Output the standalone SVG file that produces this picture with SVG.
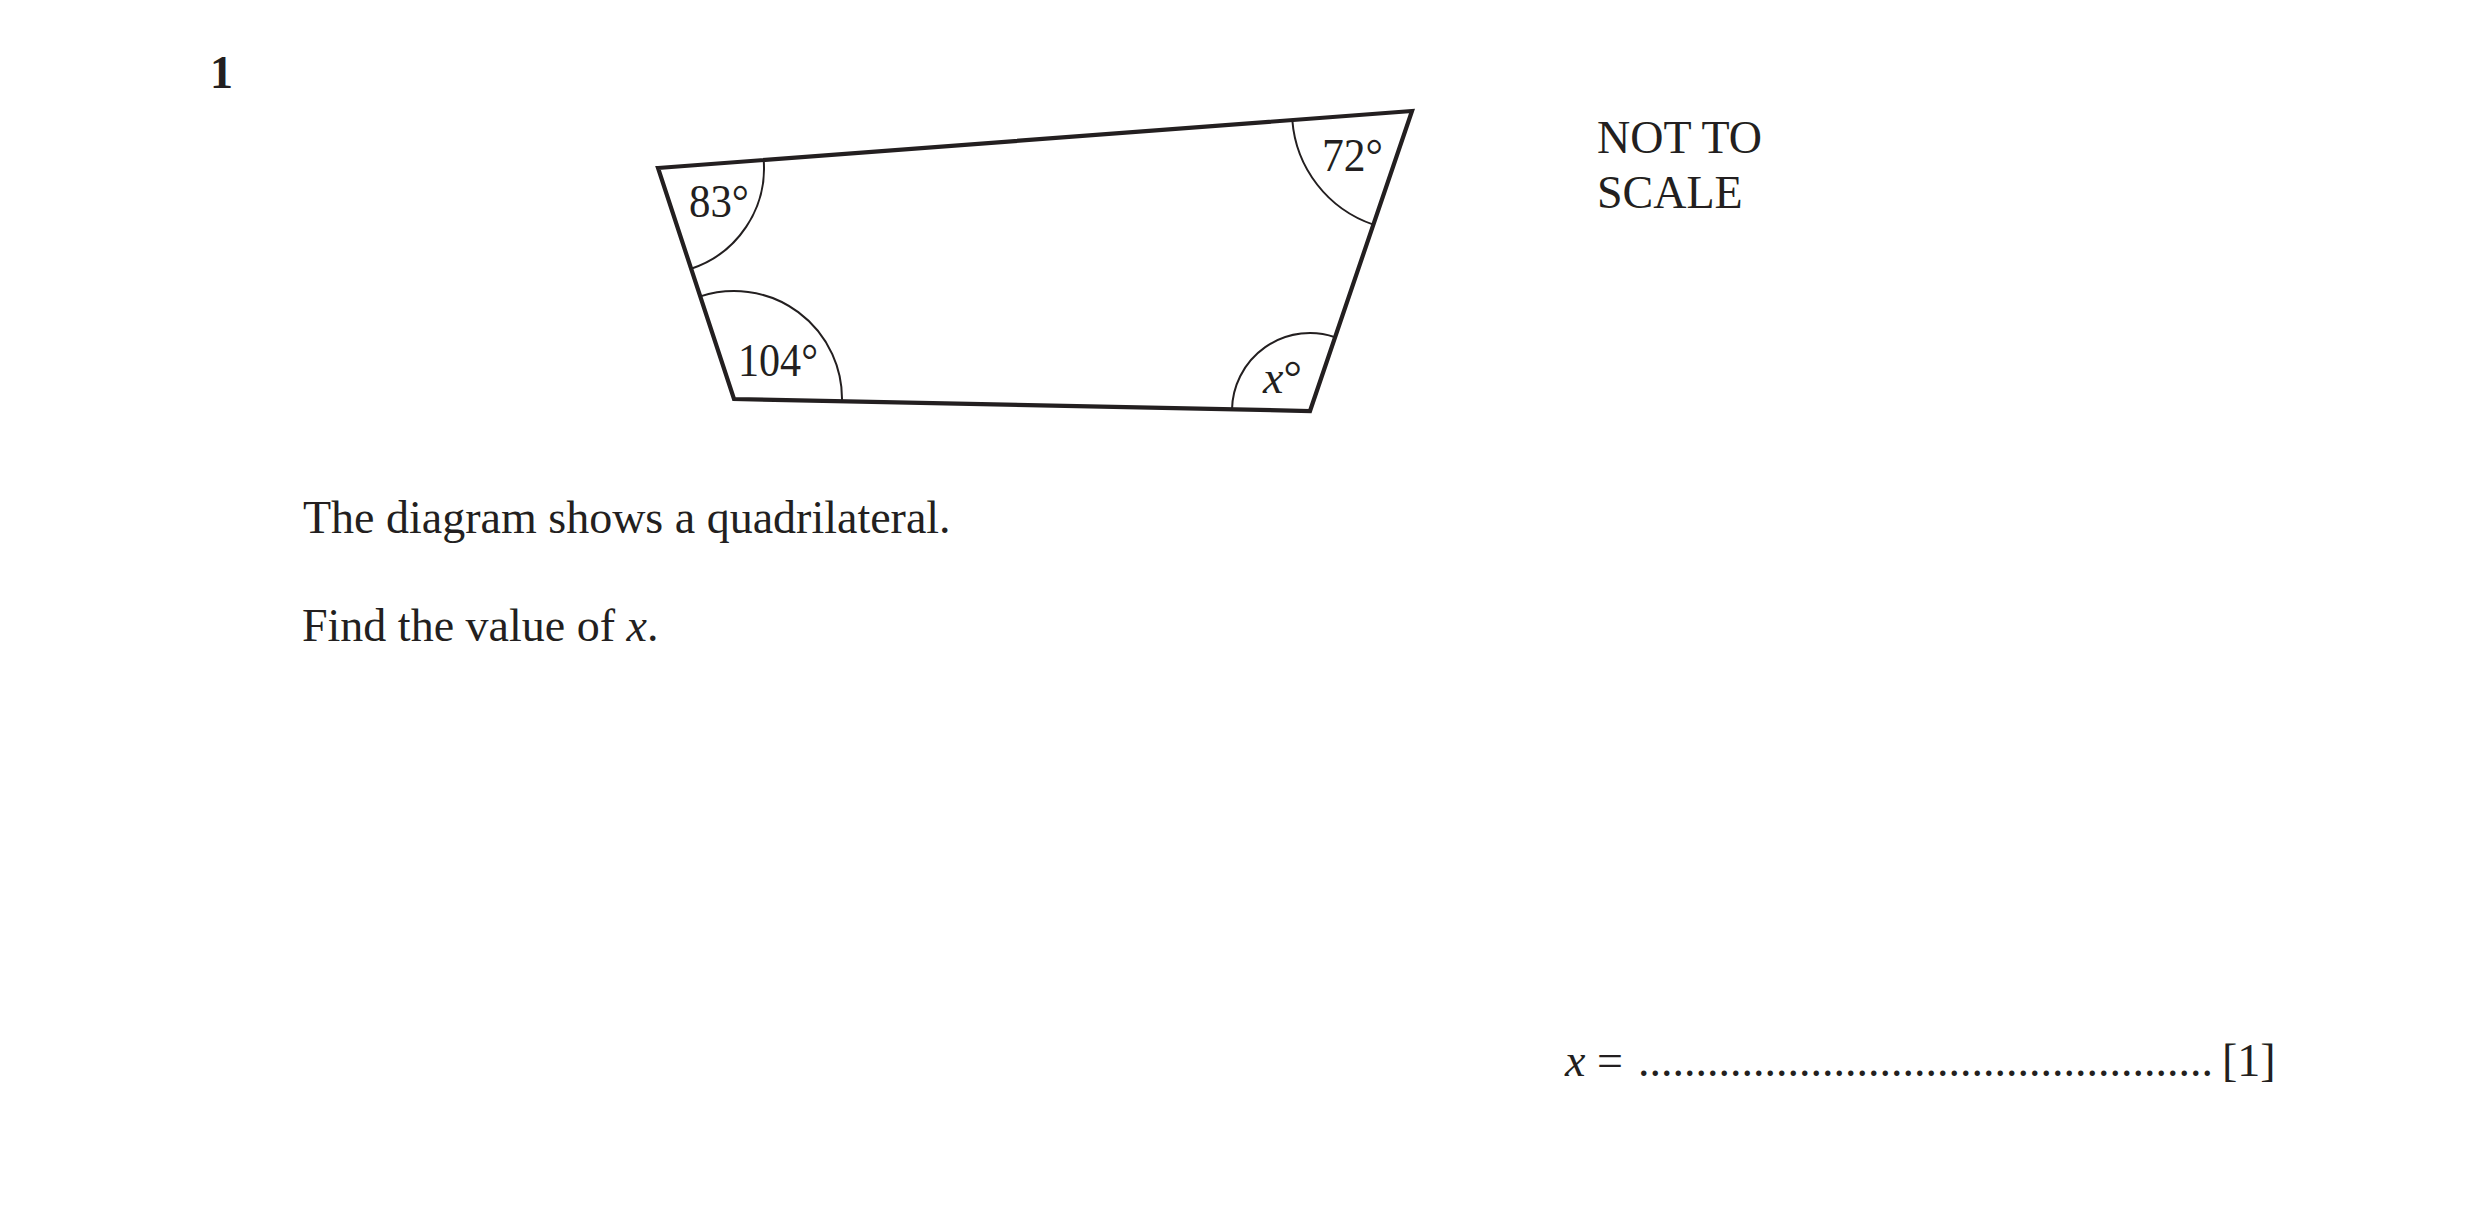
<svg xmlns="http://www.w3.org/2000/svg" width="2481" height="1232" viewBox="0 0 2481 1232">
<style>
text{font-family:"Liberation Serif","Times New Roman",serif;font-size:46px;fill:#231f20}
.b{font-weight:bold}
.i{font-style:italic}
.edge{fill:none;stroke:#231f20;stroke-width:4.2;stroke-linejoin:miter}
.arc{fill:none;stroke:#231f20;stroke-width:2}
</style>
<rect width="2481" height="1232" fill="#ffffff"/>
<g id="question-number"><text class="b" x="210" y="88">1</text></g>
<g id="quadrilateral">
<polygon class="edge" points="658,168 1412,111 1310,411 734,399"/>
</g>
<g id="angle-marks">
<g id="angle-83"><path class="arc" d="M763.7,160 A106,106 0 0 1 691.1,268.7"/><text x="689" y="217" textLength="60" lengthAdjust="spacingAndGlyphs">83°</text></g>
<g id="angle-72"><path class="arc" d="M1292.3,120 A120,120 0 0 0 1373.4,224.6"/><text x="1322" y="171" textLength="61" lengthAdjust="spacingAndGlyphs">72°</text></g>
<g id="angle-104"><path class="arc" d="M700.3,296.4 A108,108 0 0 1 842,401.2"/><text x="738" y="376" textLength="80" lengthAdjust="spacingAndGlyphs">104°</text></g>
<g id="angle-x"><path class="arc" d="M1232,409.4 A78,78 0 0 1 1335.1,337.2"/><text x="1263" y="393"><tspan class="i">x</tspan>°</text></g>
</g>
<g id="note"><text x="1597" y="153">NOT TO</text><text x="1597" y="208">SCALE</text></g>
<g id="question-text">
<text x="303" y="533">The diagram shows a quadrilateral.</text>
<text x="302" y="641">Find the value of <tspan class="i">x</tspan>.</text>
</g>
<g id="answer-line">
<text x="1565" y="1076"><tspan class="i">x</tspan> =</text>
<text x="1638" y="1076">..................................................</text>
<text x="2222" y="1076">[1]</text>
</g>
</svg>
